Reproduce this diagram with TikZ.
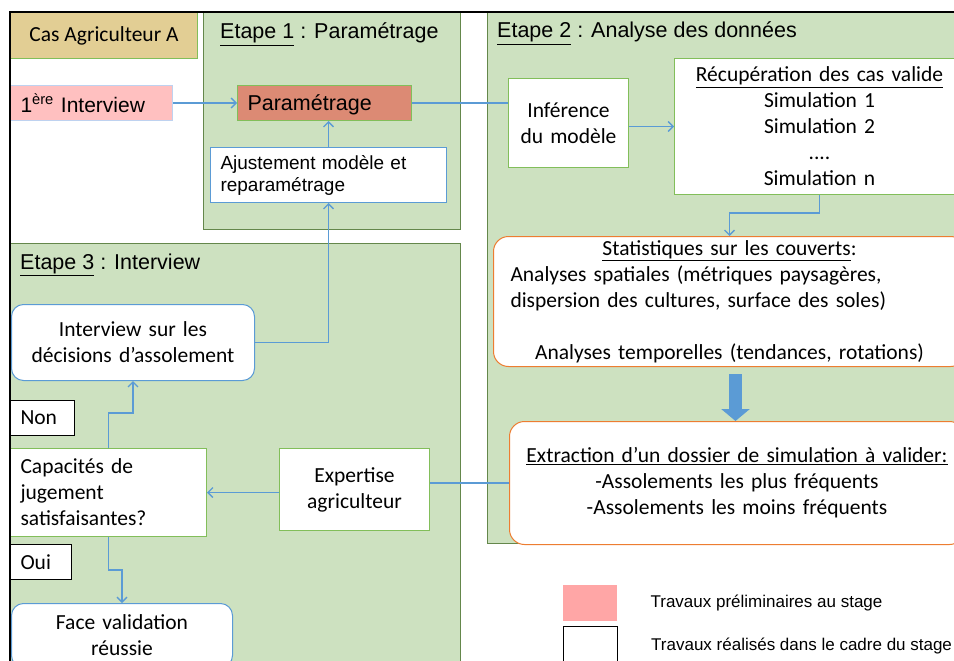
\documentclass[tikz,border=0pt]{standalone}
\usepackage{fontspec}
\setmainfont{Carlito}
\newfontfamily\arialfont{Liberation Sans}
\usetikzlibrary{positioning,arrows.meta}

\definecolor{etapefill}{RGB}{205,225,192}
\definecolor{etapeborder}{RGB}{100,135,75}
\definecolor{boxgreen}{RGB}{130,190,90}
\definecolor{lineblue}{RGB}{91,155,213}
\definecolor{boxorange}{RGB}{237,125,49}
\definecolor{pinkbox}{RGB}{255,192,192}
\definecolor{pinkborder}{RGB}{190,210,240}
\definecolor{paramfill}{RGB}{220,138,116}
\definecolor{legpink}{RGB}{255,166,166}
\definecolor{papyrus}{RGB}{226,206,148}

\tikzset{
  etape/.style={draw=etapeborder, fill=etapefill, line width=1pt, anchor=north west, inner sep=0pt},
  titre/.style={font=\arialfont\fontsize{21.5}{25}\selectfont, inner sep=0pt, anchor=base west},
  boite/.style={draw=boxgreen, fill=white, line width=1pt, anchor=north west, inner sep=0pt, align=center},
  gauche/.style={align=left, inner xsep=10pt},
  bleue/.style={draw=lineblue},
  orange/.style={draw=boxorange, rounded corners=15pt},
  etiq/.style={draw=black, fill=white, line width=1pt, anchor=north west, inner sep=0pt, inner xsep=10pt, align=left},
  fleche/.style={draw=lineblue, line width=1.4pt, -{Straight Barb[length=5pt,width=10pt]}},
  lien/.style={draw=lineblue, line width=1.4pt},
  grosse/.style={draw=lineblue, line width=13pt, -{Triangle[length=12pt,width=28pt]}, shorten <=7pt},
  legende/.style={font=\arialfont\fontsize{17}{20}\selectfont, inner sep=0pt, anchor=west}
}

\begin{document}
\begin{tikzpicture}[x=1pt,y=-1pt,font=\fontsize{21.5}{26}\selectfont]
  \clip (0,0) rectangle (954,661);
  \fill[white] (0,0) rectangle (954,661);

  \node[etape, minimum width=257pt, minimum height=217pt] (et1) at (203,12) {};
  \node[etape, minimum width=480pt, minimum height=531pt] (et2) at (487,12) {};
  \node[etape, minimum width=450pt, minimum height=440pt] (et3) at (10,243) {};

  \node[titre] (t1) at (220,39) {\underline{Etape 1} : Paramétrage};
  \node[titre] (t2) at (497,38) {\underline{Etape 2} : Analyse des données};
  \node[titre] (t3) at (20,269) {\underline{Etape 3} : Interview};

  \node[boite, fill=papyrus, minimum width=187pt, minimum height=46pt] (cas) at (10,12) {Cas Agriculteur A};
  \node[boite, gauche, draw=pinkborder, fill=pinkbox, text width=142pt, minimum height=35pt, text depth=0pt,
        font=\arialfont\fontsize{21}{25}\selectfont] (int1) at (10,85) {1\textsuperscript{ère} Interview};
  \node[boite, gauche, fill=paramfill, text width=154pt, minimum height=35pt, text depth=0pt,
        font=\arialfont\fontsize{21.5}{25}\selectfont] (param) at (237,85) {Paramétrage};
  \node[boite, gauche, bleue, text width=216pt, minimum height=55pt,
        font=\arialfont\fontsize{19}{22}\selectfont] (ajust) at (210,147) {Ajustement modèle et\\reparamétrage};

  \node[boite, text width=120pt, minimum height=89pt] (infer) at (508,78) {Inférence\\du modèle};
  \node[boite, text width=290pt, minimum height=136pt] (recup) at (674,58)
    {\underline{Récupération des cas valide}\\Simulation 1\\Simulation 2\\....\\Simulation n};
  \node[boite, orange, gauche, inner xsep=17pt, text width=438pt, minimum height=130pt] (stat) at (493,236)
    {\hspace*{\fill}\underline{Statistiques sur les couverts}:\hspace*{\fill}\null\\
     Analyses spatiales (métriques paysagères,\\
     dispersion des cultures, surface des soles)\\[26pt]
     \hspace*{\fill}Analyses temporelles (tendances, rotations)\hspace*{\fill}\null};
  \node[boite, orange, text width=455pt, minimum height=123pt] (extr) at (509,421)
    {\underline{Extraction d’un dossier de simulation à valider:}\\-Assolements les plus fréquents\\-Assolements les moins fréquents};

  \node[boite, bleue, rounded corners=12pt, text width=243pt, minimum height=76pt] (intdec) at (11,304)
    {Interview sur les\\décisions d’assolement};
  \node[etiq, text width=44pt, minimum height=35pt] (non) at (10,400) {Non};
  \node[boite, gauche, text width=176pt, minimum height=88pt] (capa) at (10,448)
    {Capacités de\\jugement\\satisfaisantes?};
  \node[boite, text width=150pt, minimum height=82pt] (expert) at (279,448) {Expertise\\agriculteur};
  \node[etiq, text width=41pt, minimum height=35pt] (oui) at (10,544) {Oui};
  \node[boite, bleue, rounded corners=12pt, text width=221pt, minimum height=64pt] (face) at (11,603)
    {Face validation\\réussie};

  \draw[fleche] (int1.east) -- (param.west);
  \draw[lien] (param.east) -- (param.east -| infer.west);
  \draw[fleche] (recup.west -| infer.east) -- (recup.west);
  \draw[fleche] (recup.south) -- ++(0,18) -| (stat.north);
  \draw[grosse] ([xshift=6pt]stat.south) -- ([xshift=6pt]stat.south |- extr.north);
  \draw[lien] (extr.west) -- (extr.west -| expert.east);
  \draw[fleche] (expert.west |- capa.east) -- (capa.east);
  \draw[fleche] (capa.north) -- ++(0,-35) -| (intdec.south);
  \draw[fleche] (capa.south) -- ++(0,33) -| (face.north);
  \draw[fleche] (intdec.east) -| (ajust.south);
  \draw[fleche] (ajust.north) -- (ajust.north |- param.south);

  \draw[line width=2pt] (970,12) -- (10,12) -- (10,680);

  \node[anchor=north west, fill=legpink, inner sep=0pt, minimum width=54pt, minimum height=36pt] (lp) at (563,585) {};
  \node[legende, right=33pt of lp] (lpt) {Travaux préliminaires au stage};
  \node[anchor=north west, draw=black, line width=1pt, fill=white, inner sep=0pt, minimum width=54pt, minimum height=40pt] (lw) at (563,626) {};
  \node[legende, right=33pt of lw] (lwt) {Travaux réalisés dans le cadre du stage};
\end{tikzpicture}
\end{document}
